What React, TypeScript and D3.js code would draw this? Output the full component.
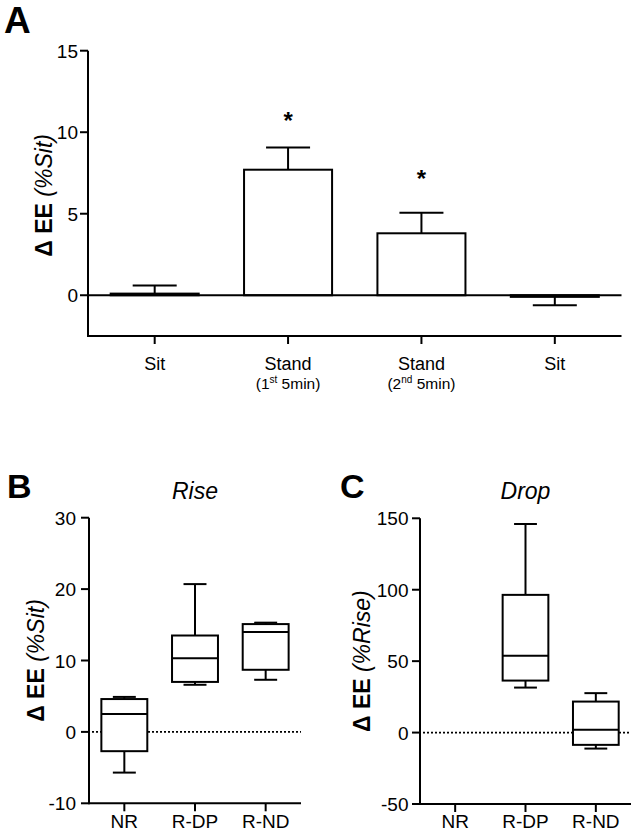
import React from "react";
import * as d3 from "d3";

// ---------- Panel A data ----------
const conditionsA = ["Sit", "Stand", "Stand", "Sit"];
const subLabelLead = ["", "(1", "(2", ""];
const subLabelSup = ["", "st", "nd", ""];
const subLabelTail = ["", " 5min)", " 5min)", ""];
const meanA = [0.1, 7.7, 3.8, -0.1];
const semA = [0.5, 1.36, 1.26, 0.52];
const starA = [null, 11.0, 7.45, null];
const ticksA = [0, 5, 10, 15];

// ---------- Panel B / C data ----------
const groups = ["NR", "R-DP", "R-ND"];
const riseMin = [-5.7, 6.6, 7.3];
const riseQ1 = [-2.7, 7.0, 8.7];
const riseMed = [2.5, 10.3, 14.0];
const riseQ3 = [4.6, 13.5, 15.1];
const riseMax = [4.9, 20.7, 15.3];
const ticksB = [-10, 0, 10, 20, 30];

const dropMin = [null, 31.5, -11.2];
const dropQ1 = [null, 36.4, -8.6];
const dropMed = [null, 53.7, 1.9];
const dropQ3 = [null, 96.4, 21.7];
const dropMax = [null, 146.0, 27.6];
const ticksC = [-50, 0, 50, 100, 150];

const FONT = "'Liberation Sans', Arial, Helvetica, sans-serif";
const SW = 2;
const TICK_FS = 19;
const YLAB_FS = 23;

function BoxPanel(props: {
  x0: number; x1: number; yDomain: [number, number]; yRange: [number, number];
  ticks: number[]; mins: (number | null)[]; q1: (number | null)[]; med: (number | null)[];
  q3: (number | null)[]; maxs: (number | null)[]; title: string; letter: string;
  letterX: number; ylabelX: number; ylabelSuffix: string; tickLabelX: number;
}) {
  const p = props;
  const y = d3.scaleLinear().domain(p.yDomain).range(p.yRange);
  const x = d3.scaleBand<number>().domain(groups.map((_, i) => i)).range([p.x0, p.x1]);
  const bw = x.bandwidth() * 0.65;
  const capW = bw / 2;
  const yBottom = y(p.yDomain[0]);
  const yTop = y(p.yDomain[1]);
  const mid = (p.x0 + p.x1) / 2;
  return (
    <g>
      <text x={p.letterX} y={498} fontSize={34} fontWeight="bold" fontFamily={FONT}>{p.letter}</text>
      <text x={mid} y={499} fontSize={23} fontStyle="italic" textAnchor="middle" fontFamily={FONT}>{p.title}</text>
      <text transform={`translate(${p.ylabelX},${(yTop + yBottom) / 2}) rotate(-90)`} textAnchor="middle" fontSize={YLAB_FS} fontFamily={FONT}>
        <tspan fontWeight="bold">Δ EE</tspan>
        <tspan fontStyle="italic">{"  (%" + p.ylabelSuffix + ")"}</tspan>
      </text>
      {/* zero dotted line */}
      <line x1={p.x0 + 3} x2={p.x1} y1={y(0)} y2={y(0)} stroke="#000" strokeWidth={1.6} strokeDasharray="2,2" />
      {/* axes */}
      <line x1={p.x0} x2={p.x0} y1={yTop} y2={yBottom + SW / 2} stroke="#000" strokeWidth={SW} />
      <line x1={p.x0} x2={p.x1} y1={yBottom} y2={yBottom} stroke="#000" strokeWidth={SW} />
      {p.ticks.map((t) => (
        <g key={t}>
          <line x1={p.x0 - 8} x2={p.x0} y1={y(t)} y2={y(t)} stroke="#000" strokeWidth={SW} />
          <text x={p.tickLabelX} y={y(t) + 7} textAnchor="end" fontSize={TICK_FS} fontFamily={FONT}>{t}</text>
        </g>
      ))}
      {groups.map((g, i) => {
        const cx = x(i)! + x.bandwidth() / 2;
        return (
          <g key={g}>
            <line x1={cx} x2={cx} y1={yBottom} y2={yBottom + 8} stroke="#000" strokeWidth={SW} />
            <text x={cx} y={828} textAnchor="middle" fontSize={TICK_FS} fontFamily={FONT}>{g}</text>
          </g>
        );
      })}
      {groups.map((g, i) => {
        if (p.med[i] == null) return null;
        const cx = x(i)! + x.bandwidth() / 2;
        const l = cx - bw / 2;
        const yq1 = y(p.q1[i] as number);
        const yq3 = y(p.q3[i] as number);
        const ymin = y(p.mins[i] as number);
        const ymax = y(p.maxs[i] as number);
        return (
          <g key={"b" + g} stroke="#000" strokeWidth={SW} fill="none">
            <line x1={cx} x2={cx} y1={ymax} y2={yq3} />
            <line x1={cx} x2={cx} y1={yq1} y2={ymin} />
            <line x1={cx - capW / 2} x2={cx + capW / 2} y1={ymax} y2={ymax} />
            <line x1={cx - capW / 2} x2={cx + capW / 2} y1={ymin} y2={ymin} />
            <rect x={l} y={yq3} width={bw} height={yq1 - yq3} fill="#fff" />
            <line x1={l} x2={l + bw} y1={y(p.med[i] as number)} y2={y(p.med[i] as number)} />
          </g>
        );
      })}
    </g>
  );
}

export default function App() {
  // Panel A scales
  const yA = d3.scaleLinear().domain([-2.5, 15]).range([336, 50.7]);
  const xA = d3.scaleBand<number>().domain(conditionsA.map((_, i) => i)).range([88, 621.5]);
  const barW = xA.bandwidth() * 0.66;
  const capA = barW / 2;
  const y0 = yA(0);

  return (
    <svg width={636} height={836} style={{ position: "absolute", left: 0, top: 0, background: "#fff" }} fontFamily={FONT}>
      <rect x={0} y={0} width={636} height={836} fill="#fff" />
      {/* Panel A */}
      <text x={4} y={33} fontSize={37} fontWeight="bold" fontFamily={FONT}>A</text>
      <text transform={`translate(52,${(yA(15) + yA(-2.5)) / 2 + 2}) rotate(-90)`} textAnchor="middle" fontSize={YLAB_FS} fontFamily={FONT}>
        <tspan fontWeight="bold">Δ EE</tspan>
        <tspan fontStyle="italic">{"  (%Sit)"}</tspan>
      </text>
      {ticksA.map((t) => (
        <g key={t}>
          <line x1={80} x2={88} y1={yA(t)} y2={yA(t)} stroke="#000" strokeWidth={SW} />
          <text x={78} y={yA(t) + 7} textAnchor="end" fontSize={TICK_FS} fontFamily={FONT}>{t}</text>
        </g>
      ))}
      {conditionsA.map((c, i) => {
        const cx = xA(i)! + xA.bandwidth() / 2;
        const m = meanA[i];
        const top = yA(Math.max(m, 0));
        const bot = yA(Math.min(m, 0));
        const errV = m >= 0 ? m + semA[i] : m - semA[i];
        const yErr = yA(errV);
        const yEdge = m >= 0 ? top : bot;
        return (
          <g key={i}>
            <line x1={cx} x2={cx} y1={yEdge} y2={yErr} stroke="#000" strokeWidth={SW} />
            <line x1={cx - capA / 2} x2={cx + capA / 2} y1={yErr} y2={yErr} stroke="#000" strokeWidth={SW} />
            <rect x={cx - barW / 2} y={top} width={barW} height={Math.max(bot - top, 1)} fill="#fff" stroke="#000" strokeWidth={SW} />
            {starA[i] != null && (
              <text x={cx} y={yA(starA[i] as number) + 13} textAnchor="middle" fontSize={24} fontWeight="bold" fontFamily={FONT}>*</text>
            )}
            <line x1={cx} x2={cx} y1={336} y2={344} stroke="#000" strokeWidth={SW} />
            <text x={cx} y={370} textAnchor="middle" fontSize={18} fontFamily={FONT}>{c}</text>
            {subLabelLead[i] && (
              <text x={cx} y={389} textAnchor="middle" fontSize={15.5} fontFamily={FONT}>
                {subLabelLead[i]}
                <tspan fontSize={10} dy={-6}>{subLabelSup[i]}</tspan>
                <tspan dy={6}>{subLabelTail[i]}</tspan>
              </text>
            )}
          </g>
        );
      })}
      <line x1={88} x2={621.5} y1={y0} y2={y0} stroke="#000" strokeWidth={SW} />
      <line x1={88} x2={88} y1={yA(15)} y2={336 + SW / 2} stroke="#000" strokeWidth={SW} />
      <line x1={88} x2={621.5} y1={336} y2={336} stroke="#000" strokeWidth={SW} />

      {/* Panel B */}
      <BoxPanel x0={89} x1={301} yDomain={[-10, 30]} yRange={[803.3, 517.7]} ticks={ticksB}
        mins={riseMin} q1={riseQ1} med={riseMed} q3={riseQ3} maxs={riseMax}
        title="Rise" letter="B" letterX={7} ylabelX={44} ylabelSuffix="Sit" tickLabelX={76} />
      {/* Panel C */}
      <BoxPanel x0={420} x1={631} yDomain={[-50, 150]} yRange={[804, 518.3]} ticks={ticksC}
        mins={dropMin} q1={dropQ1} med={dropMed} q3={dropQ3} maxs={dropMax}
        title="Drop" letter="C" letterX={340} ylabelX={370} ylabelSuffix="Rise" tickLabelX={408.5} />
    </svg>
  );
}
